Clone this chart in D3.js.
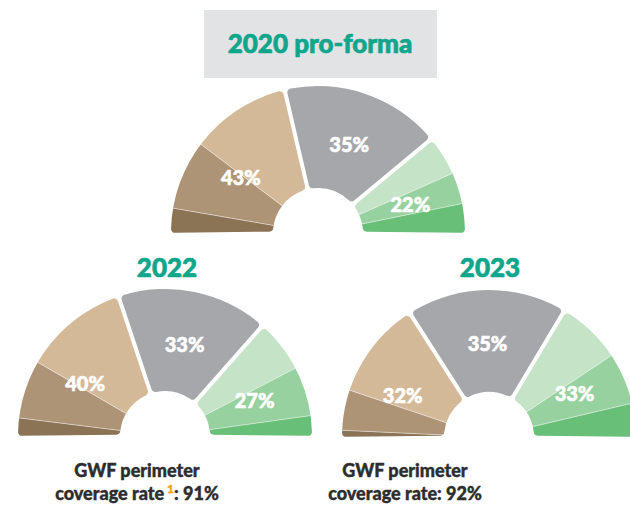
<!DOCTYPE html>
<html>
<head>
<meta charset="utf-8">
<script src="https://cdn.jsdelivr.net/npm/d3@7"></script>
<style>
  body { margin: 0; background: #fff; }
  svg { display: block; font-family: Lato, "Open Sans", sans-serif; font-weight: 900; }
</style>
</head>
<body>
<div id="myDataVis"></div>
<script>
// group totals shown as labels (brown, gray, green)
var totals2020 = [43, 35, 22];
var totals2022 = [40, 33, 27];
var totals2023 = [32, 35, 33];

// sub-segments inside each group, left to right
var brown2020 = [5.5, 15.5, 22];
var gray2020 = [35];
var green2020 = [8.5, 7, 6.5];

var brown2022 = [4, 13, 23];
var gray2022 = [33];
var green2022 = [11.5, 11, 4.5];

var brown2023 = [1.5, 9, 21.5];
var gray2023 = [35];
var green2023 = [14, 11.5, 7.5];

var chartTitles = ["2020 pro-forma", "2022", "2023"];
var coverageRates = [null, 91, 92];

var groupColors = [
    ["#8b7355", "#ae9476", "#d4b998"],
    ["#a6a7ab"],
    ["#c5e3c7", "#98d1a0", "#68bf78"]
];

var width = 630, height = 506;
var outerR = 147, innerR = 45;
var pad = 0.026;

document.addEventListener('DOMContentLoaded', function () {
    var svg = d3.select("#myDataVis")
        .append("svg")
        .attr("width", width)
        .attr("height", height);

    // title box for the top chart
    svg.append("rect")
        .attr("x", 204).attr("y", 10)
        .attr("width", 233).attr("height", 68)
        .attr("fill", "#e2e3e5");

    // layout of the three charts
    var charts = [
        {title: chartTitles[0], totals: totals2020, subs: [brown2020, gray2020, green2020], cx: 318, cy: 233, titleX: 320, titleY: 53},
        {title: chartTitles[1], totals: totals2022, subs: [brown2022, gray2022, green2022], cx: 165, cy: 436, titleX: 167, titleY: 277, rate: coverageRates[1], noteX: 137, note: true},
        {title: chartTitles[2], totals: totals2023, subs: [brown2023, gray2023, green2023], cx: 489, cy: 437, titleX: 490, titleY: 277, rate: coverageRates[2], noteX: 405}
    ];

    charts.forEach(function (c, ci) {
        drawHalfDonut(svg, c, ci);

        svg.append("text")
            .attr("x", c.titleX)
            .attr("y", c.titleY)
            .attr("text-anchor", "middle")
            .attr("fill", "#0fa68c")
            .attr("stroke", "#0fa68c")
            .attr("stroke-width", 0.7)
            .style("font-size", "26px")
            .text(c.title);

        if (c.rate != null) {
            svg.append("text")
                .attr("x", c.noteX).attr("y", 477)
                .attr("text-anchor", "middle")
                .attr("fill", "#2d2d2d")
                .attr("stroke", "#2d2d2d")
                .attr("stroke-width", 0.4)
                .style("font-size", "18px")
                .text("GWF perimeter");

            var line2 = svg.append("text")
                .attr("x", c.noteX).attr("y", 500)
                .attr("text-anchor", "middle")
                .attr("fill", "#2d2d2d")
                .attr("stroke", "#2d2d2d")
                .attr("stroke-width", 0.4)
                .style("font-size", "18px");
            line2.append("tspan").text("coverage rate");
            if (c.note) {
                line2.append("tspan")
                    .attr("dx", 3).attr("dy", -7)
                    .attr("fill", "#f5a31a")
                    .attr("stroke", "#f5a31a")
                    .style("font-size", "12px")
                    .text("1");
                line2.append("tspan").attr("dy", 7).text(": " + c.rate + "%");
            } else {
                line2.append("tspan").text(": " + c.rate + "%");
            }
        }
    });
});

function drawHalfDonut(svg, c, ci) {
    var g = svg.append("g")
        .attr("transform", "translate(" + c.cx + "," + c.cy + ")");

    var pie = d3.pie()
        .sort(null)
        .startAngle(-Math.PI / 2 - pad / 2)
        .endAngle(Math.PI / 2 + pad / 2)
        .padAngle(pad);

    var groupArc = d3.arc()
        .innerRadius(innerR)
        .outerRadius(outerR)
        .cornerRadius(4);

    var subArc = d3.arc()
        .innerRadius(innerR - 2)
        .outerRadius(outerR + 2);

    var labelArc = d3.arc()
        .innerRadius(98)
        .outerRadius(98);

    var groups = pie(c.totals);

    groups.forEach(function (ga, gi) {
        var clipId = "clip" + ci + "_" + gi;
        g.append("clipPath")
            .attr("id", clipId)
            .append("path")
            .attr("d", groupArc(ga));

        // split the group into its sub-segments
        var subs = c.subs[gi];
        var k = (ga.endAngle - ga.startAngle - ga.padAngle) / d3.sum(subs);
        var a = ga.startAngle + ga.padAngle / 2;
        var pieces = subs.map(function (v, j) {
            var s = (j == 0) ? ga.startAngle : a;
            a = a + v * k;
            var e = (j == subs.length - 1) ? ga.endAngle : a;
            return {startAngle: s, endAngle: e, color: groupColors[gi][j]};
        });

        g.append("g")
            .attr("clip-path", "url(#" + clipId + ")")
            .selectAll("path")
            .data(pieces)
            .enter()
            .append("path")
                .attr("d", subArc)
                .attr("fill", function (d) { return d.color; })
                .attr("stroke", "rgba(255,255,255,0.6)")
                .attr("stroke-width", 0.6);

        var p = labelArc.centroid(ga);
        g.append("text")
            .attr("x", p[0])
            .attr("y", p[1] + 5)
            .attr("dy", "0.35em")
            .attr("text-anchor", "middle")
            .attr("fill", "#fff")
            .attr("stroke", "#fff")
            .attr("stroke-width", 0.6)
            .style("font-size", "20px")
            .text(c.totals[gi] + "%");
    });
}
</script>
</body>
</html>
